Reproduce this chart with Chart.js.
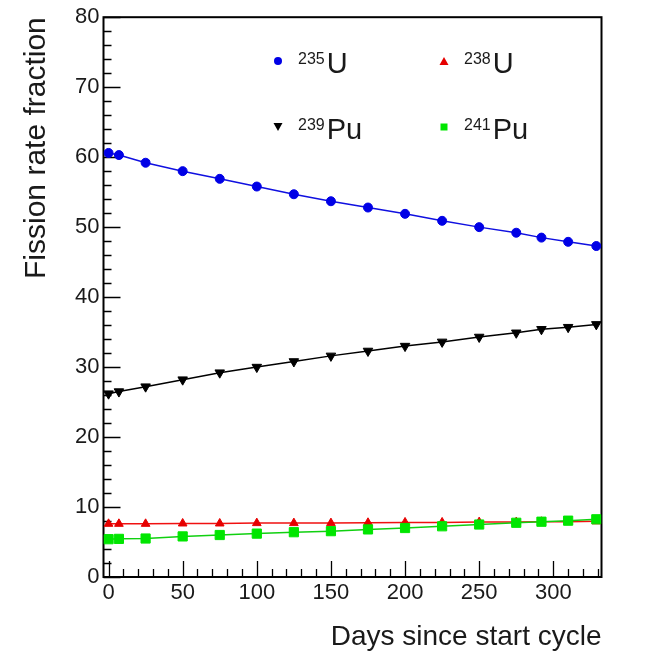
<!DOCTYPE html>
<html>
<head>
<meta charset="utf-8">
<script src="https://cdn.jsdelivr.net/npm/chart.js@4.4.1/dist/chart.umd.min.js"></script>
<style>
  body { margin: 0; background: #fff; }
  #wrap { width: 661px; height: 657px; position: relative; }
</style>
</head>
<body>
<div id="wrap"><canvas id="FRF"></canvas></div>
<script>
// days since start of cycle
let days = [0, 7, 25, 50, 75, 100, 125, 150, 175, 200, 225, 250, 275, 292, 310, 329];

// fission rate fractions (%)
let u235 = [60.6, 60.3, 59.2, 58.0, 56.9, 55.8, 54.7, 53.7, 52.8, 51.9, 50.9, 50.0, 49.2, 48.5, 47.9, 47.3];
let u238 = [7.6, 7.6, 7.6, 7.65, 7.65, 7.7, 7.7, 7.7, 7.75, 7.8, 7.8, 7.85, 7.85, 7.9, 7.9, 7.95];
let pu239 = [26.2, 26.5, 27.2, 28.2, 29.2, 30.0, 30.8, 31.6, 32.3, 33.0, 33.6, 34.3, 34.9, 35.4, 35.7, 36.1];
let pu241 = [5.4, 5.45, 5.5, 5.8, 6.0, 6.2, 6.4, 6.55, 6.8, 7.0, 7.25, 7.5, 7.75, 7.9, 8.05, 8.25];

// tick labels
let xTicks = [0, 50, 100, 150, 200, 250, 300];
let yTicks = [0, 10, 20, 30, 40, 50, 60, 70, 80];

// legend text: mass number + element
let massNumbers = ["235", "238", "239", "241"];
let elements = ["U", "U", "Pu", "Pu"];

let pts = (vals) => days.map((d, i) => ({ x: d, y: vals[i] }));

const FONT = "'Liberation Sans', Arial, Helvetica, sans-serif";
const INK = "#1a1a1a";

// frame + ROOT style ticks drawn inside the pad
const frameTicks = {
  id: "frameTicks",
  beforeDatasetsDraw(chart) {
    const { ctx, chartArea: a, scales } = chart;
    const x = scales.x, y = scales.y;
    ctx.save();
    ctx.strokeStyle = "#000";
    ctx.lineWidth = 1.3;
    ctx.beginPath();
    for (let d = 0; d <= x.max; d += 10) {
      let px = Math.round(x.getPixelForValue(d)) + 0.5;
      let len = d % 50 === 0 ? 16 : 8;
      ctx.moveTo(px, a.bottom);
      ctx.lineTo(px, a.bottom - len);
    }
    for (let v = 0; v <= y.max; v += 2) {
      let py = Math.round(y.getPixelForValue(v)) + 0.5;
      let len = v % 10 === 0 ? 17 : 8;
      ctx.moveTo(a.left, py);
      ctx.lineTo(a.left + len, py);
    }
    ctx.stroke();
    ctx.lineWidth = 2;
    ctx.strokeRect(a.left, a.top, a.right - a.left, a.bottom - a.top);
    ctx.restore();
  },
};

// two column legend like the ROOT TLegend
const isoLegend = {
  id: "isoLegend",
  afterDatasetsDraw(chart) {
    const { ctx } = chart;
    const cols = [278, 444];
    const rows = [61, 127];
    ctx.save();
    chart.data.datasets.forEach((ds, i) => {
      let cx = cols[i % 2], cy = rows[Math.floor(i / 2)];
      ctx.fillStyle = ds.pointBackgroundColor;
      ctx.beginPath();
      if (ds.pointStyle === "circle") {
        ctx.arc(cx, cy, 4, 0, Math.PI * 2);
      } else if (ds.pointStyle === "rect") {
        ctx.rect(cx - 3.5, cy - 3.5, 7, 7);
      } else if (ds.pointRotation === 180) {
        ctx.moveTo(cx - 4.5, cy - 4);
        ctx.lineTo(cx + 4.5, cy - 4);
        ctx.lineTo(cx, cy + 4);
      } else {
        ctx.moveTo(cx - 4.5, cy + 4);
        ctx.lineTo(cx + 4.5, cy + 4);
        ctx.lineTo(cx, cy - 4);
      }
      ctx.closePath();
      ctx.fill();

      let tx = cx + 20, base = cy + 12;
      ctx.fillStyle = INK;
      ctx.textBaseline = "alphabetic";
      ctx.textAlign = "left";
      ctx.font = "16px " + FONT;
      ctx.fillText(massNumbers[i], tx, base - 9);
      let w = ctx.measureText(massNumbers[i]).width;
      ctx.font = "29px " + FONT;
      ctx.fillText(elements[i], tx + w + 2, base);
    });
    ctx.restore();
  },
};

renderFissionRateChart();

function renderFissionRateChart() {
  let FRF = document.querySelector("#FRF");
  let ConfigFRF = new Chart(FRF, {
    type: "line",
    data: {
      datasets: [
        {
          label: "235U",
          data: pts(u235),
          borderColor: "#1010e0",
          pointBackgroundColor: "#0000e6",
          pointBorderColor: "#0000e6",
          pointStyle: "circle",
          pointRadius: 4.5,
          order: 1,
        },
        {
          label: "238U",
          data: pts(u238),
          borderColor: "#f01010",
          pointBackgroundColor: "#e60000",
          pointBorderColor: "#e60000",
          pointStyle: "triangle",
          pointRadius: 5,
          order: 4,
        },
        {
          label: "239Pu",
          data: pts(pu239),
          borderColor: "#000000",
          pointBackgroundColor: "#000000",
          pointBorderColor: "#000000",
          pointStyle: "triangle",
          pointRotation: 180,
          pointRadius: 5.5,
          order: 2,
        },
        {
          label: "241Pu",
          data: pts(pu241),
          borderColor: "#10d010",
          pointBackgroundColor: "#00e600",
          pointBorderColor: "#00e600",
          pointStyle: "rect",
          pointRadius: 6.5,
          order: 3,
        },
      ],
    },

    options: {
      responsive: true,
      maintainAspectRatio: false,
      animation: false,
      datasets: {
        line: { borderWidth: 1.5, tension: 0, pointBorderWidth: 1, fill: false },
      },
      layout: { padding: { top: 14, right: 59.5, left: 0, bottom: 0 } },
      plugins: {
        legend: { display: false },
        tooltip: { enabled: false },
      },
      scales: {
        x: {
          type: "linear",
          min: -3.4,
          max: 332.5,
          grid: { display: false, drawTicks: false },
          border: { display: false },
          afterBuildTicks: (s) => { s.ticks = xTicks.map((v) => ({ value: v })); },
          afterFit: (s) => { s.height = 80; },
          ticks: {
            padding: 3,
            maxRotation: 0,
            autoSkip: false,
            color: INK,
            font: { family: FONT, size: 22 },
          },
          title: {
            display: true,
            text: "Days since start cycle",
            align: "end",
            color: INK,
            font: { family: FONT, size: 28 },
            padding: { top: 0, bottom: 3 },
          },
        },

        y: {
          min: 0,
          max: 80,
          grid: { display: false, drawTicks: false },
          border: { display: false },
          afterBuildTicks: (s) => { s.ticks = yTicks.map((v) => ({ value: v })); },
          afterFit: (s) => { s.width = 103.5; },
          ticks: {
            padding: 4,
            color: INK,
            font: { family: FONT, size: 22 },
          },
          title: {
            display: true,
            text: "Fission rate fraction",
            align: "end",
            color: INK,
            font: { family: FONT, size: 30 },
            padding: { top: 19, bottom: 0 },
          },
        },
      },
    },
    plugins: [frameTicks, isoLegend],
  });
}
</script>
</body>
</html>
